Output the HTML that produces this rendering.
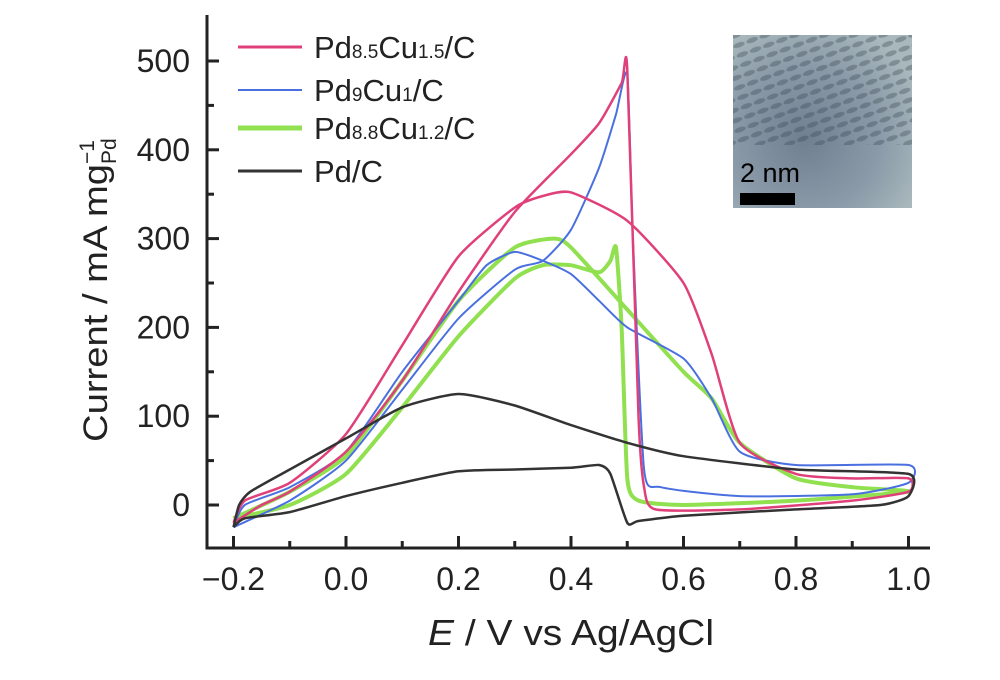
<!DOCTYPE html><html><head><style>body{margin:0;background:#fff}svg text{font-family:"Liberation Sans",sans-serif;fill:#222}</style></head><body>
<svg id="s" width="1000" height="675" xmlns="http://www.w3.org/2000/svg">
<defs><radialGradient id="g" cx="40%" cy="60%" r="70%"><stop offset="0" stop-color="#6f7f90"/><stop offset="0.6" stop-color="#8a9aa8"/><stop offset="1" stop-color="#a8b8bc"/></radialGradient>
<pattern id="p" width="14" height="10" patternUnits="userSpaceOnUse" patternTransform="rotate(-20)"><ellipse cx="7" cy="5" rx="6" ry="2.5" fill="#3a4450" opacity="0.35"/></pattern></defs>
<rect x="733" y="35" width="179" height="173" fill="url(#g)"/>
<rect x="733" y="35" width="179" height="110" fill="url(#p)"/>
<rect x="740" y="193" width="55" height="12" fill="#000"/>
<text x="740" y="182" font-size="27" style="fill:#000">2 nm</text>
<path d="M207 15V548H930" stroke="#222" stroke-width="3" fill="none"/>
<g id="ticks" stroke="#222" stroke-width="3"></g>
<g font-size="32" text-anchor="end" id="yl"></g>
<g font-size="32" text-anchor="middle" id="xl"></g>
<g id="curves" fill="none" stroke-linejoin="round"></g>
<g stroke-width="3"><line x1="238" y1="47" x2="302" y2="47" stroke="#e0407a"/><line x1="238" y1="90" x2="302" y2="90" stroke="#4a70e0" stroke-width="2"/><line x1="238" y1="128" x2="302" y2="128" stroke="#90e050" stroke-width="5"/><line x1="238" y1="171" x2="302" y2="171" stroke="#333"/></g>
<g font-size="31"><text x="314" y="58">Pd<tspan font-size="19">8.5</tspan>Cu<tspan font-size="19">1.5</tspan>/C</text>
<text x="314" y="101">Pd<tspan font-size="19">9</tspan>Cu<tspan font-size="19">1</tspan>/C</text>
<text x="314" y="139">Pd<tspan font-size="19">8.8</tspan>Cu<tspan font-size="19">1.2</tspan>/C</text>
<text x="314" y="182">Pd/C</text></g>
<text transform="translate(107,442) rotate(-90)" font-size="34"><tspan textLength="278" lengthAdjust="spacingAndGlyphs">Current / mA mg</tspan><tspan font-size="21" dy="-13">−1</tspan><tspan font-size="21" dy="22" dx="-24">Pd</tspan></text>
<text x="428" y="645" font-size="36" textLength="286" lengthAdjust="spacingAndGlyphs"><tspan font-style="italic">E</tspan> / V vs Ag/AgCl</text>
</svg>
<script>
const X=v=>346+562.5*v,Y=c=>505-0.888*c,ns="http://www.w3.org/2000/svg";
function el(p,t,a,txt){const e=document.createElementNS(ns,t);for(const k in a)e.setAttribute(k,a[k]);if(txt!=null)e.textContent=txt;document.getElementById(p).appendChild(e);}
for(let c=0;c<=500;c+=50){const y=Y(c);el("ticks","line",{x1:207,x2:c%100?214:219,y1:y,y2:y});if(c%100==0)el("yl","text",{x:190,y:y+11},c);}
for(let i=0;i<=12;i++){const v=-0.2+i*0.1,x=X(v);el("ticks","line",{x1:x,x2:x,y1:548,y2:i%2?541:536});if(i%2==0)el("xl","text",{x:x,y:590},(v<0?"−":"")+Math.abs(v).toFixed(1));}
const D={
"#333":[2.5,[[-0.2,-25],[-0.18,-15],[-0.1,-8],[0,10],[0.1,25],[0.2,38],[0.3,40],[0.4,42],[0.45,45],[0.47,35],[0.5,-20],[0.52,-18],[0.6,-12],[0.8,-5],[0.95,0],[1,10],[1,35],[0.8,40],[0.6,55],[0.5,70],[0.4,90],[0.3,112],[0.2,125],[0.1,110],[0,75],[-0.1,40],[-0.17,15],[-0.19,0],[-0.2,-25]]],
"#e0407a":[2.5,[[-0.2,-20],[-0.15,0],[-0.1,15],[0,60],[0.1,140],[0.2,240],[0.3,330],[0.4,395],[0.45,430],[0.49,475],[0.5,490],[0.52,100],[0.53,20],[0.55,-5],[0.7,-5],[0.9,5],[1,15],[1,30],[0.9,30],[0.8,35],[0.7,70],[0.65,170],[0.6,250],[0.5,320],[0.4,352],[0.35,348],[0.3,335],[0.2,280],[0.1,180],[0,80],[-0.1,25],[-0.18,5],[-0.2,-20]]],
"#4a70e0":[2,[[-0.2,-25],[-0.1,5],[0,50],[0.1,130],[0.2,210],[0.3,265],[0.35,275],[0.4,310],[0.45,380],[0.48,440],[0.5,485],[0.51,300],[0.53,40],[0.56,20],[0.7,10],[0.9,12],[1,25],[1,45],[0.8,45],[0.7,60],[0.65,120],[0.6,165],[0.5,200],[0.45,230],[0.4,260],[0.35,275],[0.3,285],[0.25,270],[0.2,230],[0.1,150],[0,60],[-0.1,20],[-0.18,0],[-0.2,-25]]],
"#90e050":[4,[[-0.2,-15],[-0.1,0],[0,35],[0.1,110],[0.2,190],[0.3,255],[0.35,270],[0.4,270],[0.45,262],[0.47,275],[0.48,290],[0.49,200],[0.5,30],[0.52,5],[0.6,0],[0.8,5],[1,15],[0.9,20],[0.8,30],[0.7,70],[0.65,120],[0.6,150],[0.5,220],[0.4,290],[0.37,300],[0.3,290],[0.2,230],[0.1,140],[0,55],[-0.1,15],[-0.2,-15]]]};
function smooth(P){let d="M"+P[0].join(" ");for(let i=0;i<P.length-1;i++){const p0=P[Math.max(i-1,0)],p1=P[i],p2=P[i+1],p3=P[Math.min(i+2,P.length-1)];const t=0.1;const c1=[p1[0]+(p2[0]-p0[0])*t,p1[1]+(p2[1]-p0[1])*t],c2=[p2[0]-(p3[0]-p1[0])*t,p2[1]-(p3[1]-p1[1])*t];d+="C"+c1.map(v=>v.toFixed(1)).join(" ")+" "+c2.map(v=>v.toFixed(1)).join(" ")+" "+p2.map(v=>v.toFixed(1)).join(" ");}return d;}
for(const col of ["#90e050","#4a70e0","#e0407a","#333"]){const [w,pts]=D[col];el("curves","path",{stroke:col,"stroke-width":w,d:smooth(pts.map(p=>[X(p[0]),Y(p[1])]))});}
</script></body></html>
